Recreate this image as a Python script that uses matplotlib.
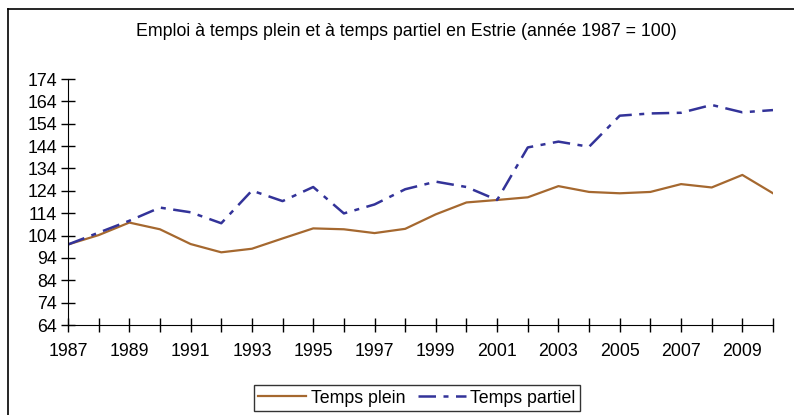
import matplotlib
matplotlib.use("Agg")
import matplotlib.pyplot as plt
from matplotlib.lines import Line2D

plt.rcParams["font.family"] = ["Liberation Sans", "DejaVu Sans"]

years = list(range(1987, 2011))
temps_plein = [100, 104.2, 109.8, 106.8, 100.2, 96.5, 98.1, 102.7, 107.2, 106.8, 105.1, 107.0,
               113.5, 118.8, 119.9, 121.1, 126.1, 123.5, 122.9, 123.5, 127.0, 125.5, 131.1, 122.9]
temps_partiel = [100, 105.3, 110.6, 116.5, 114.4, 109.5, 124.1, 119.4, 125.7, 113.9, 117.9, 124.7,
                 128.1, 125.7, 119.9, 143.4, 146.0, 143.7, 157.6, 158.6, 158.9, 162.4, 159.1, 160.1]
y_ticks = list(range(64, 175, 10))
x_ticks = list(range(1987, 2011, 2))

fig = plt.figure(figsize=(7.94, 4.15), dpi=100)
ax = fig.add_axes([68 / 794, 90 / 415, 705 / 794, 246 / 415])

ax.plot(years, temps_plein, color="#A5682F", lw=1.6, label="Temps plein")
ax.plot(years, temps_partiel, color="#333399", lw=1.8, dashes=(7, 3, 2, 3), label="Temps partiel")

ax.set_xlim(1987, 2010)
ax.set_ylim(64, 174)
ax.set_yticks(y_ticks)
ax.set_xticks(years, minor=True)
ax.set_xticks(x_ticks)
ax.tick_params(axis="both", direction="inout", length=10, width=1, labelsize=12.8, pad=3)
ax.tick_params(axis="x", which="minor", direction="inout", length=10, width=1)
ax.tick_params(axis="x", pad=8)
for s in ["top", "right"]:
    ax.spines[s].set_visible(False)

fig.text(406 / 794, 1 - 32 / 415, "Emploi à temps plein et à temps partiel en Estrie (année 1987 = 100)",
         ha="center", va="center", fontsize=12.8)

leg = fig.legend(loc="center", bbox_to_anchor=(417 / 794, 1 - 398 / 415), ncol=2, frameon=True,
                 fontsize=12.8, fancybox=False, edgecolor="black", handlelength=2.7,
                 columnspacing=0.7, handletextpad=0.25, borderpad=0.25)
leg.get_frame().set_linewidth(1)

# outer frame: left and top edges only
fig.add_artist(Line2D([8 / 794, 8 / 794], [0, 1 - 9 / 415], transform=fig.transFigure, color="black", lw=1.2))
fig.add_artist(Line2D([8 / 794, 1], [1 - 9 / 415, 1 - 9 / 415], transform=fig.transFigure, color="black", lw=1.2))

fig.savefig("out.png", dpi=100)
